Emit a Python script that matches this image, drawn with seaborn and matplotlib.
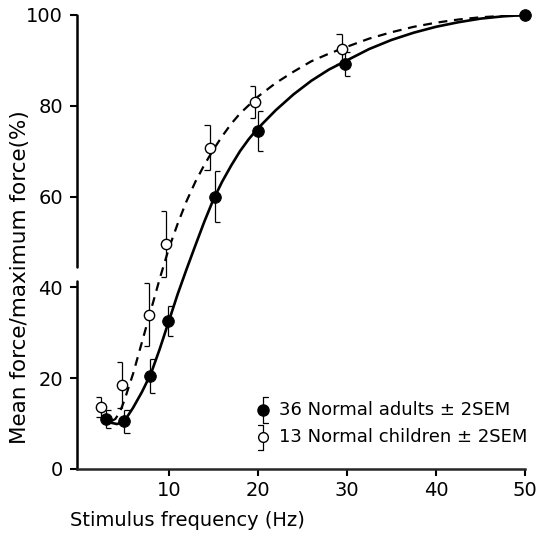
import numpy as np
import matplotlib
matplotlib.use('Agg')
import matplotlib.pyplot as plt
import seaborn as sns

# values (mean force as % of max force, error = 2 SEM)
freq_adults = [2.9, 5.0, 7.9, 9.9, 15.2, 20.0, 29.8, 50.0]
force_adults = [11.0, 10.5, 20.5, 32.5, 60.0, 74.5, 89.2, 100.0]
sem2_adults = [2.0, 2.5, 3.7, 3.3, 5.7, 4.4, 2.6, 0.0]

freq_children = [2.4, 4.8, 7.8, 9.7, 14.6, 19.7, 29.4]
force_children = [13.7, 18.5, 34.0, 49.5, 70.8, 80.8, 92.5]
sem2_children = [2.2, 5.0, 7.0, 7.3, 5.0, 3.5, 3.3]

# fitted curves
curve_adults_x = [2.9, 3.5, 4.2, 5.0, 6.0, 7.0, 8.0, 9.0, 10.0, 11.0, 12.0, 13.0, 14.0, 15.0,
                  16.0, 17.0, 18.0, 19.0, 20.0, 22.0, 24.0, 26.0, 28.0, 30.0, 32.5, 35.0,
                  37.5, 40.0, 42.5, 45.0, 47.5, 50.0]
curve_adults_y = [11.0, 10.2, 9.9, 10.5, 13.5, 17.0, 21.0, 26.5, 32.5, 38.5, 44.0, 49.3, 54.5, 59.3,
                  63.3, 66.8, 70.0, 72.7, 75.0, 79.0, 82.5, 85.5, 88.0, 90.0, 92.5, 94.5,
                  96.1, 97.4, 98.4, 99.2, 99.7, 100.0]
curve_children_x = [3.5, 4.0, 4.5, 5.0, 5.5, 6.0, 7.0, 8.0, 9.0, 10.0, 11.0, 12.0, 13.0, 14.0, 15.0,
                    16.0, 17.0, 18.0, 20.0, 22.0, 24.0, 26.0, 28.0, 30.0, 32.5, 35.0,
                    37.5, 40.0, 42.5, 45.0, 47.5, 50.0]
curve_children_y = [10.5, 11.0, 12.5, 15.0, 18.0, 21.0, 28.0, 35.0, 42.0, 48.5, 54.0, 59.0, 63.3, 67.0, 70.3,
                    73.3, 76.0, 78.3, 82.0, 85.0, 87.5, 89.8, 91.5, 93.0, 94.8, 96.2,
                    97.4, 98.3, 99.0, 99.5, 99.8, 100.0]

x_ticks = [10, 20, 30, 40, 50]
y_ticks = [0, 20, 40, 60, 80, 100]
legend_labels = ['36 Normal adults \u00b1 2SEM', '13 Normal children \u00b1 2SEM']

sns.set_style('ticks')
plt.rcParams['font.family'] = ['DejaVu Sans']
plt.rcParams['text.color'] = 'black'
plt.rcParams['axes.labelcolor'] = 'black'
plt.rcParams['xtick.color'] = 'black'
plt.rcParams['ytick.color'] = 'black'

fig = plt.figure(figsize=(5.38, 5.37), dpi=100)
ax = fig.add_axes([77 / 538, 1 - 469 / 537, 448 / 538, 454 / 537])

# curves
sns.lineplot(x=curve_adults_x, y=curve_adults_y, ax=ax, color='black', lw=1.9,
             sort=False, estimator=None)
sns.lineplot(x=curve_children_x, y=curve_children_y, ax=ax, color='black', lw=1.6,
             sort=False, estimator=None, dashes=False, linestyle=(0, (4, 3)))

# bracket style error bars
cap = 0.6
fa, ya, ea = np.array(freq_adults), np.array(force_adults), np.array(sem2_adults)
fc, yc, ec = np.array(freq_children), np.array(force_children), np.array(sem2_children)
m = ea > 0
ax.vlines(fa[m], (ya - ea)[m], (ya + ea)[m], color='black', lw=0.9)
ax.hlines((ya + ea)[m], fa[m], fa[m] + cap, color='black', lw=0.9)
ax.hlines((ya - ea)[m], fa[m], fa[m] + cap, color='black', lw=0.9)
ax.vlines(fc, yc - ec, yc + ec, color='black', lw=0.9)
ax.hlines(yc + ec, fc - cap, fc, color='black', lw=0.9)
ax.hlines(yc - ec, fc - cap, fc, color='black', lw=0.9)

# points
sns.scatterplot(x=freq_adults, y=force_adults, ax=ax, color='black', s=70,
                edgecolor='black', zorder=5, clip_on=False)
sns.scatterplot(x=freq_children, y=force_children, ax=ax, color='white', s=55,
                edgecolor='black', linewidth=1.0, zorder=5, clip_on=False)

ax.set_xlim(-0.3, 50)
ax.set_ylim(0, 100)
ax.set_xticks(x_ticks)
ax.set_yticks(y_ticks)
ax.tick_params(axis='both', labelsize=14, width=1.5, length=5, color='black')
ax.tick_params(axis='x', pad=4)
ax.tick_params(axis='y', pad=5)

sns.despine(ax=ax)
ax.spines['bottom'].set_linewidth(1.8)
ax.spines['left'].set_visible(False)
# broken y axis
ax.axvline(-0.3, ymin=0, ymax=0.415, color='black', lw=1.8, clip_on=False)
ax.axvline(-0.3, ymin=0.445, ymax=1.0, color='black', lw=1.8, clip_on=False)

ax.set_ylabel('Mean force/maximum force(%)', fontsize=15.5)
ax.yaxis.set_label_coords(-0.105, 0.423)
ax.set_xlabel('Stimulus frequency (Hz)', fontsize=14, ha='left')
ax.xaxis.set_label_coords(-0.016, -0.093)

# legend drawn by hand
mx, tx = 0.415, 0.452
for i, (lab, yy) in enumerate(zip(legend_labels, [0.13, 0.07])):
    side = 1 if i == 0 else -1
    ax.plot([mx, mx], [yy - 0.028, yy + 0.028], transform=ax.transAxes, color='black', lw=0.9)
    ax.plot([mx, mx + side * 0.012], [yy + 0.028, yy + 0.028], transform=ax.transAxes, color='black', lw=0.9)
    ax.plot([mx, mx + side * 0.012], [yy - 0.028, yy - 0.028], transform=ax.transAxes, color='black', lw=0.9)
    ax.plot(mx, yy, 'o', transform=ax.transAxes, ms=8 if i == 0 else 7,
            mfc='black' if i == 0 else 'white', mec='black', mew=1.0)
    ax.text(tx, yy, lab, transform=ax.transAxes, fontsize=13, va='center', ha='left')

fig.savefig('out.png', dpi=100)
